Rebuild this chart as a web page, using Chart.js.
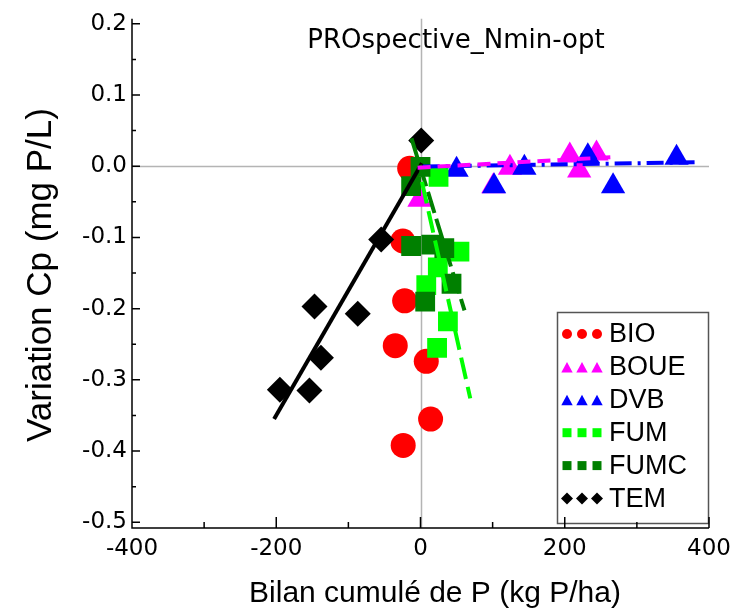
<!DOCTYPE html>
<html><head><meta charset="utf-8">
<script src="https://cdn.jsdelivr.net/npm/chart.js@4/dist/chart.umd.min.js"></script>
<style>html,body{margin:0;padding:0;background:#fff;}#wrap{width:740px;height:611px;position:relative;}</style>
</head><body><div id="wrap"><canvas id="c" width="740" height="611"></canvas></div>
<script>
// ---- data ----
const seriesNames = ['BIO', 'BOUE', 'DVB', 'FUM', 'FUMC', 'TEM'];
const bioX  = [-24.5, -22, -35, 8, 14, -24, -15];
const bioY  = [-0.105, -0.189, -0.252, -0.274, -0.355, -0.392, -0.003];
const boueX = [-1.5, 101, 124, 207, 220, 244];
const boueY = [-0.047, -0.028, -0.002, 0.015, -0.006, 0.018];
const dvbX  = [50, 102, 144, 232, 267, 355];
const dvbY  = [-0.005, -0.028, -0.002, 0.014, -0.028, 0.012];
const fumX  = [25, 54, 24, 8, 38, 23];
const fumY  = [-0.015, -0.12, -0.142, -0.167, -0.218, -0.255];
const fumcX = [0, -13, -13, 15, 33, 43, 6.5];
const fumcY = [-0.001, -0.028, -0.112, -0.11, -0.115, -0.165, -0.19];
const temX  = [1, -54.5, -87, -147, -138, -195, -154];
const temY  = [0.036, -0.103, -0.207, -0.197, -0.269, -0.314, -0.315];
// fitted lines (end points)
const boueFitX = [-4, 272],  boueFitY = [-0.002, 0.013];
const dvbFitX  = [3, 380],   dvbFitY  = [-0.0005, 0.0055];
const fumFitX  = [2, 69],    fumFitY  = [-0.022, -0.326];
const fumcFitX = [-12.5, 61], fumcFitY = [0.039, -0.2025];
const temFitX  = [-203, 2],  temFitY  = [-0.355, 0.004];
// ticks
const xTicks = [-400, -200, 0, 200, 400];
const xMinorTicks = [-300, -100, 100, 300];
const yTicks = [0.2, 0.1, 0.0, -0.1, -0.2, -0.3, -0.4, -0.5];
const yMinorTicks = [0.15, 0.05, -0.05, -0.15, -0.25, -0.35, -0.45];
const chartTitle = 'PROspective_Nmin-opt';
const xTitle = 'Bilan cumulé de P (kg P/ha)';
const yTitle = 'Variation Cp (mg P/L)';

const colors = {BIO:'#ff0000', BOUE:'#ff00ff', DVB:'#0000ff', FUM:'#00ff00', FUMC:'#008000', TEM:'#000000'};
const styles = {BIO:'circle', BOUE:'triangle', DVB:'triangle', FUM:'rect', FUMC:'rect', TEM:'rectRot'};
const radii  = {BIO:12.5, BOUE:14, DVB:14, FUM:14, FUMC:14, TEM:13};

const pts = (xs, ys) => xs.map((x, i) => ({x, y: ys[i]}));
const seriesData = {BIO:[bioX,bioY], BOUE:[boueX,boueY], DVB:[dvbX,dvbY], FUM:[fumX,fumY], FUMC:[fumcX,fumcY], TEM:[temX,temY]};

const scatterSets = seriesNames.map((n, i) => ({
  type: 'scatter', label: n, data: pts(...seriesData[n]),
  pointStyle: styles[n], pointRadius: radii[n], pointHoverRadius: radii[n],
  backgroundColor: colors[n], borderColor: colors[n], borderWidth: 0,
  order: 10 - i
}));
const fit = (label, xs, ys, color, dash) => ({
  type: 'line', label, data: pts(xs, ys), borderColor: color, borderWidth: 4,
  borderDash: dash, pointRadius: 0, fill: false, showLine: true, order: 0
});
const lineSets = [
  fit('BOUE fit', boueFitX, boueFitY, colors.BOUE, [13, 7]),
  fit('DVB fit', dvbFitX, dvbFitY, colors.DVB, [17, 6, 3, 6]),
  fit('FUM fit', fumFitX, fumFitY, colors.FUM, [22, 8]),
  fit('FUMC fit', fumcFitX, fumcFitY, colors.FUMC, [22, 6]),
  fit('TEM fit', temFitX, temFitY, colors.TEM, [])
];

function marker(ctx, style, x, y, r, color) {
  ctx.save(); ctx.fillStyle = color; ctx.beginPath();
  if (style === 'circle') { ctx.arc(x, y, r, 0, Math.PI * 2); }
  else if (style === 'triangle') { ctx.moveTo(x, y - r); ctx.lineTo(x + r * 0.95, y + r * 0.75); ctx.lineTo(x - r * 0.95, y + r * 0.75); ctx.closePath(); }
  else if (style === 'rect') { ctx.rect(x - r, y - r, 2 * r, 2 * r); }
  else if (style === 'rectRot') { ctx.moveTo(x, y - r); ctx.lineTo(x + r, y); ctx.lineTo(x, y + r); ctx.lineTo(x - r, y); ctx.closePath(); }
  ctx.fill(); ctx.restore();
}

const decor = {
  id: 'decor',
  beforeDatasetsDraw(chart) {
    const {ctx, chartArea: a, scales: {x, y}} = chart;
    ctx.save();
    ctx.strokeStyle = '#b4b4b4'; ctx.lineWidth = 1.5;
    const x0 = Math.round(x.getPixelForValue(0)) + 0.5, y0 = Math.round(y.getPixelForValue(0)) + 0.5;
    ctx.beginPath(); ctx.moveTo(a.left, y0); ctx.lineTo(a.right, y0);
    ctx.moveTo(x0, a.top); ctx.lineTo(x0, a.bottom); ctx.stroke();
    ctx.fillStyle = '#000'; ctx.font = '26px "DejaVu Sans"';
    ctx.textAlign = 'center'; ctx.textBaseline = 'middle';
    ctx.fillText(chartTitle, 456, 41);
    ctx.restore();
  },
  afterDatasetsDraw(chart) {
    const {ctx, chartArea: a, scales: {x, y}} = chart;
    ctx.save();
    // legend
    const L = {l: 557, t: 312, r: 708, b: 523};
    ctx.fillStyle = '#fff'; ctx.fillRect(L.l, L.t, L.r - L.l, L.b - L.t);
    ctx.strokeStyle = '#555'; ctx.lineWidth = 1.5; ctx.strokeRect(L.l + 0.5, L.t + 0.5, L.r - L.l, L.b - L.t);
    ctx.font = '27px "Liberation Sans"'; ctx.textAlign = 'left'; ctx.textBaseline = 'middle';
    seriesNames.forEach((n, i) => {
      const cy = 334 + i * 32.9;
      const lr = styles[n] === 'rect' ? 4.5 : (styles[n] === 'circle' ? 5 : 6);
      [567, 582, 597].forEach(mx => marker(ctx, styles[n], mx, cy + (styles[n] === 'triangle' ? 1 : 0), lr, colors[n]));
      ctx.fillStyle = '#000'; ctx.fillText(n, 609, cy + 1);
    });
    // axes
    ctx.strokeStyle = '#000'; ctx.lineWidth = 1.5;
    ctx.beginPath();
    ctx.moveTo(a.left, a.top); ctx.lineTo(a.left, a.bottom); ctx.lineTo(a.right, a.bottom);
    xTicks.forEach(v => { const p = x.getPixelForValue(v); ctx.moveTo(p, a.bottom); ctx.lineTo(p, a.bottom - 11); });
    xMinorTicks.forEach(v => { const p = x.getPixelForValue(v); ctx.moveTo(p, a.bottom); ctx.lineTo(p, a.bottom - 6); });
    yTicks.forEach(v => { const p = y.getPixelForValue(v); ctx.moveTo(a.left, p); ctx.lineTo(a.left + 8, p); });
    yMinorTicks.forEach(v => { const p = y.getPixelForValue(v); ctx.moveTo(a.left, p); ctx.lineTo(a.left + 4, p); });
    ctx.stroke();
    // axis titles
    ctx.fillStyle = '#000'; ctx.textAlign = 'center'; ctx.textBaseline = 'middle';
    ctx.font = '30px "Liberation Sans"';
    ctx.fillText(xTitle, 435, 594);
    ctx.font = '35px "Liberation Sans"';
    ctx.translate(41, 275); ctx.rotate(-Math.PI / 2); ctx.fillText(yTitle, 0, 0);
    ctx.restore();
  }
};

new Chart(document.getElementById('c'), {
  type: 'scatter',
  data: {datasets: [...lineSets, ...scatterSets]},
  options: {
    responsive: false, animation: false, devicePixelRatio: 1,
    layout: {padding: {top: 12, right: 31, left: 0, bottom: 0}},
    plugins: {legend: {display: false}, tooltip: {enabled: false}, title: {display: false}},
    scales: {
      x: {
        type: 'linear', min: -400, max: 400,
        afterBuildTicks: s => { s.ticks = xTicks.map(v => ({value: v})); },
        afterFit: s => { s.height = 83; },
        grid: {display: false, drawTicks: false}, border: {display: false},
        ticks: {color: '#000', font: {family: 'DejaVu Sans', size: 23}, padding: 7, maxRotation: 0, autoSkip: false, callback: v => String(v)}
      },
      y: {
        type: 'linear', min: -0.508, max: 0.207,
        afterBuildTicks: s => { s.ticks = yTicks.map(v => ({value: v})); },
        afterFit: s => { s.width = 132; },
        grid: {display: false, drawTicks: false}, border: {display: false},
        ticks: {color: '#000', font: {family: 'DejaVu Sans', size: 23}, padding: 5, autoSkip: false, callback: v => v.toFixed(1)}
      }
    }
  },
  plugins: [decor]
});
</script></body></html>
